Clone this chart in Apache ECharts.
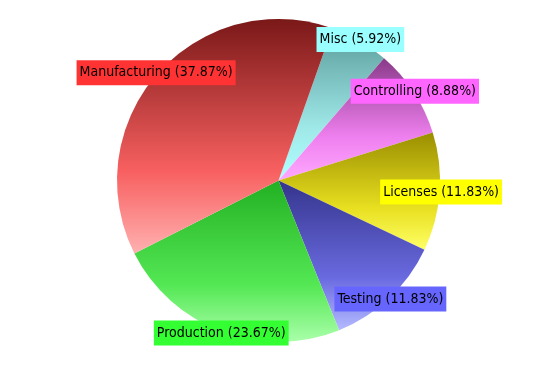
<!DOCTYPE html>
<html><head><meta charset="utf-8">
<script src="https://cdn.jsdelivr.net/npm/echarts@6/dist/echarts.min.js"></script>
<style>html,body{margin:0;padding:0;background:#fff}#c{width:560px;height:370px}</style>
</head><body><div id="c"></div>
<script>
const categories = ['Misc', 'Controlling', 'Licenses', 'Testing', 'Production', 'Manufacturing'];
const values = [10, 15, 20, 20, 40, 64];
const percentLabels = ['5.92%', '8.88%', '11.83%', '11.83%', '23.67%', '37.87%'];
const baseColors = ['#99ffff', '#ff66ff', '#ffff00', '#6666ff', '#33ff33', '#ff3333'];
const darkColors = ['#5a9a9a', '#8a3a8a', '#9a8e00', '#34348c', '#22b022', '#7a1818'];
const midColors = ['#9fe8e8', '#ef80ef', '#e8e020', '#6a6ae0', '#55e855', '#f86060'];
const lightColors = ['#b0ffff', '#ffa8ff', '#ffff66', '#b4baff', '#aaffaa', '#ffb0b0'];

const chart = echarts.init(document.getElementById('c'));
const pieData = categories.map((n, i) => ({
  name: n, value: values[i],
  itemStyle: { color: new echarts.graphic.LinearGradient(0, 0, 0, 1, [
    { offset: 0, color: darkColors[i] },
    { offset: 0.65, color: midColors[i] },
    { offset: 1, color: lightColors[i] }
  ]) }
}));
const labelData = categories.map((n, i) => ({
  name: n, value: values[i],
  label: { backgroundColor: baseColors[i] }
}));
chart.setOption({
  animation: false,
  series: [
    {
      type: 'pie', center: [278.5, 180.5], radius: [0, 161.5],
      startAngle: 70.5, clockwise: true, silent: true,
      label: { show: false }, labelLine: { show: false },
      data: pieData
    },
    {
      type: 'pie', center: [278.5, 180.5], radius: [150, 170],
      startAngle: 70.5, clockwise: true, silent: true,
      itemStyle: { color: 'rgba(0,0,0,0)' },
      labelLine: { show: false },
      label: {
        show: true, position: 'inside', color: '#000',
        fontFamily: '"DejaVu Sans Condensed", "DejaVu Sans", sans-serif', fontSize: 14,
        lineHeight: 16,
        padding: [5, 3, 4, 3],
        formatter: p => p.name + ' (' + percentLabels[p.dataIndex] + ')'
      },
      data: labelData
    }
  ]
});
</script></body></html>
